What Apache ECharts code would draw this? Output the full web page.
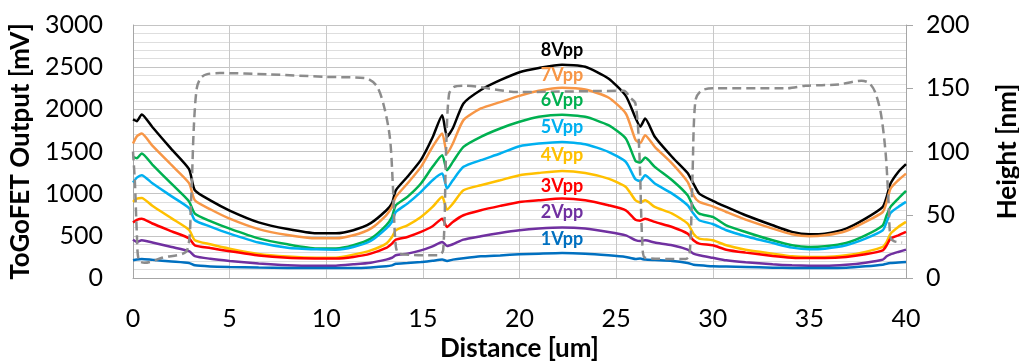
<!DOCTYPE html>
<html>
<head>
<meta charset="utf-8">
<script src="https://cdn.jsdelivr.net/npm/echarts@6/dist/echarts.min.js"></script>
<style>
  html, body { margin: 0; padding: 0; background: #fff; }
  #chart { width: 1019px; height: 361px; }
</style>
</head>
<body>
<div id="chart"></div>
<script>
// distance [um] shared by the output curves
const distance = [0, 0.2, 0.45, 1, 2, 2.9, 3.2, 4, 5, 6.5, 8, 9.5, 10.5, 11.4, 12.3, 13.1, 13.4, 13.6, 14.2, 14.9,
  15.5, 16.0, 16.25, 16.55, 17.1, 18, 19, 20, 21, 22.2, 23.4, 24.6, 25.5, 26.0, 26.25, 26.5, 27, 27.9, 28.7, 29.0,
  29.3, 30, 30.7, 31.7, 33.1, 34.1, 35, 35.8, 36.9, 37.9, 38.8, 39.0, 39.2, 39.6, 40]

// ToGoFET output [mV] per drive amplitude
const out8 = [1880, 1860, 1940, 1790, 1525, 1290, 1040, 920, 800, 660, 580, 530, 530, 566, 650, 800, 885, 1040, 1200, 1400,
  1665, 1930, 1675, 1775, 2070, 2230, 2345, 2440, 2490, 2530, 2505, 2366, 2160, 1900, 1795, 1890, 1675, 1435, 1245, 1120,
  1000, 915, 843, 744, 625, 546, 518, 526, 586, 704, 843, 962, 1120, 1258, 1350]
const out7 = [1595, 1680, 1713, 1569, 1337, 1125, 922, 815, 704, 580, 510, 470, 470, 506, 586, 744, 843, 962, 1120, 1318,
  1555, 1713, 1476, 1595, 1872, 2010, 2085, 2160, 2220, 2255, 2235, 2140, 1951, 1640, 1600, 1694, 1555, 1357, 1140, 981,
  902, 850, 783, 692, 586, 518, 495, 506, 558, 665, 783, 902, 1060, 1159, 1238]
const out6 = [1436, 1420, 1476, 1345, 1115, 908, 764, 675, 586, 470, 400, 350, 350, 388, 467, 625, 724, 863, 962, 1120,
  1318, 1456, 1278, 1377, 1555, 1674, 1773, 1852, 1911, 1935, 1911, 1812, 1654, 1390, 1370, 1428, 1318, 1159, 981, 843,
  764, 724, 625, 546, 447, 388, 368, 376, 415, 506, 625, 744, 843, 942, 1033]
const out5 = [1132, 1190, 1219, 1123, 968, 828, 685, 610, 526, 420, 360, 340, 336, 368, 439, 586, 665, 783, 882, 1021,
  1159, 1238, 1060, 1159, 1318, 1397, 1476, 1563, 1595, 1614, 1587, 1496, 1377, 1170, 1150, 1219, 1120, 1001, 863, 764,
  685, 640, 566, 495, 415, 360, 340, 348, 388, 467, 566, 665, 772, 843, 902]
const out4 = [902, 940, 950, 857, 707, 571, 447, 400, 348, 285, 255, 241, 241, 277, 328, 408, 487, 566, 625, 724,
  843, 962, 811, 882, 1041, 1100, 1159, 1219, 1246, 1270, 1246, 1179, 1080, 922, 895, 922, 843, 764, 645, 526,
  467, 447, 388, 336, 289, 257, 249, 249, 269, 309, 368, 427, 526, 605, 665]
const out3 = [657, 690, 704, 646, 553, 470, 388, 355, 317, 267, 240, 232, 230, 249, 289, 356, 408, 455, 487, 546,
  613, 704, 605, 665, 744, 803, 855, 902, 922, 942, 922, 863, 803, 690, 680, 704, 665, 605, 526, 447,
  408, 388, 336, 301, 261, 241, 237, 237, 249, 281, 328, 388, 467, 506, 546]
const out2 = [455, 427, 447, 421, 367, 318, 260, 228, 202, 172, 152, 146, 146, 162, 182, 218, 240, 269, 289, 328,
  376, 427, 380, 400, 455, 495, 534, 566, 586, 598, 586, 546, 506, 450, 439, 447, 420, 388, 336, 289,
  270, 240, 210, 186, 162, 150, 146, 146, 158, 182, 218, 257, 280, 309, 336]
const out1 = [210, 220, 226, 215, 196, 178, 150, 137, 131, 125, 120, 119, 119, 119, 125, 138, 150, 170, 178, 190,
  205, 218, 202, 218, 235, 257, 268, 281, 289, 297, 289, 269, 249, 225, 230, 218, 212, 202, 178, 158,
  150, 138, 135, 131, 123, 120, 119, 119, 122, 138, 158, 170, 178, 185, 190]

// surface profile (right axis)
const heightDist = [0, 0.1, 0.2, 0.3, 0.6, 1.5, 2.8, 3.0, 3.15, 3.3, 3.5, 3.8, 4.5, 7, 10, 12, 12.6, 13.0, 13.3, 13.45,
  13.6, 13.8, 15.8, 16.05, 16.2, 16.35, 16.6, 17.1, 20, 25.4, 25.7, 26.0, 26.2, 26.35, 26.5, 28.6, 28.8, 28.95, 29.1, 29.4,
  30, 33.8, 34.8, 36.5, 37.7, 38.1, 38.4, 38.7, 38.95, 39.1, 39.2, 39.4, 39.8]
const heightNm = [100, 75, 35, 14, 12, 16, 22, 60, 120, 150, 158, 161, 162, 161, 159, 158, 152, 135, 110, 72,
  25, 19, 18, 22, 100, 145, 151, 152, 147, 148, 143, 138, 100, 30, 16, 15, 18, 80, 140, 148,
  150, 150, 152, 153, 156, 154, 147, 130, 98, 59, 32, 29, 28]

const seriesNames = ['8Vpp', '7Vpp', '6Vpp', '5Vpp', '4Vpp', '3Vpp', '2Vpp', '1Vpp']
const seriesColors = ['#000000', '#F79646', '#00B050', '#00B0F0', '#FFC000', '#FF0000', '#7030A0', '#0070C0']
const seriesValues = [out8, out7, out6, out5, out4, out3, out2, out1]
// where each Vpp label sits, in data units
const labelX = 22.2
const labelY = [2705, 2410, 2105, 1785, 1455, 1085, 775, 460]

const FONT = 'Lato'
const plain = (v) => String(v)

const chart = echarts.init(document.getElementById('chart'))

const lineSeries = seriesNames.map((name, i) => ({
  name,
  type: 'line',
  yAxisIndex: 0,
  showSymbol: false,
  symbol: 'none',
  smooth: 0.2,
  lineStyle: { width: 2.5, color: seriesColors[i] },
  data: distance.map((d, k) => [d, seriesValues[i][k]]),
  markPoint: {
    symbol: 'circle',
    symbolSize: 0,
    silent: true,
    label: {
      show: true,
      formatter: name,
      color: seriesColors[i],
      fontFamily: FONT,
      fontWeight: 'bold',
      fontSize: 18,
    },
    data: [{ coord: [labelX, labelY[i]] }],
  },
}))

const option = {
  animation: false,
  grid: { left: 133, right: 113, top: 25, bottom: 83, outerBoundsMode: 'none', containLabel: false },
  xAxis: {
    type: 'value',
    min: 0,
    max: 40,
    interval: 5,
    name: 'Distance [um]',
    nameLocation: 'middle',
    nameGap: 56,
    nameTextStyle: { fontFamily: FONT, fontWeight: 'bold', fontSize: 26, color: '#000' },
    axisLine: { lineStyle: { color: '#a6a6a6', width: 1 } },
    axisTick: { show: false },
    axisLabel: { fontFamily: FONT, fontSize: 25, color: '#000', margin: 28, formatter: plain },
    splitLine: { show: true, lineStyle: { color: '#c8c8c8', width: 1 } },
  },
  yAxis: [
    {
      type: 'value',
      min: 0,
      max: 3000,
      interval: 500,
      name: 'ToGoFET Output [mV]',
      nameLocation: 'middle',
      nameRotate: 90,
      nameGap: 96,
      nameTextStyle: { fontFamily: FONT, fontWeight: 'bold', fontSize: 26, color: '#000' },
      axisLine: { show: true, lineStyle: { color: '#a6a6a6', width: 1 } },
      axisTick: { show: false },
      axisLabel: { fontFamily: FONT, fontSize: 25, color: '#000', margin: 30, formatter: plain },
      splitLine: { show: true, lineStyle: { color: '#c4c4c4', width: 1 } },
      minorTick: { show: false, splitNumber: 5 },
      minorSplitLine: { show: true, lineStyle: { color: '#dedede', width: 1 } },
    },
    {
      type: 'value',
      min: 0,
      max: 200,
      interval: 50,
      name: 'Height [nm]',
      nameLocation: 'middle',
      nameRotate: 90,
      nameGap: 89,
      nameTextStyle: { fontFamily: FONT, fontWeight: 'bold', fontSize: 26, color: '#000' },
      axisLine: { show: true, lineStyle: { color: '#a6a6a6', width: 1 } },
      axisTick: { show: true, inside: false, length: 7, lineStyle: { color: '#a6a6a6' } },
      axisLabel: { fontFamily: FONT, fontSize: 25, color: '#000', margin: 20, formatter: plain },
      splitLine: { show: false },
    },
  ],
  series: [
    ...lineSeries,
    {
      name: 'Height',
      type: 'line',
      yAxisIndex: 1,
      showSymbol: false,
      symbol: 'none',
      smooth: 0.3,
      lineStyle: { width: 2.5, color: '#8c8c8c', type: [9, 5] },
      data: heightDist.map((d, k) => [d, heightNm[k]]),
    },
  ],
}

chart.setOption(option)
</script>
</body>
</html>
